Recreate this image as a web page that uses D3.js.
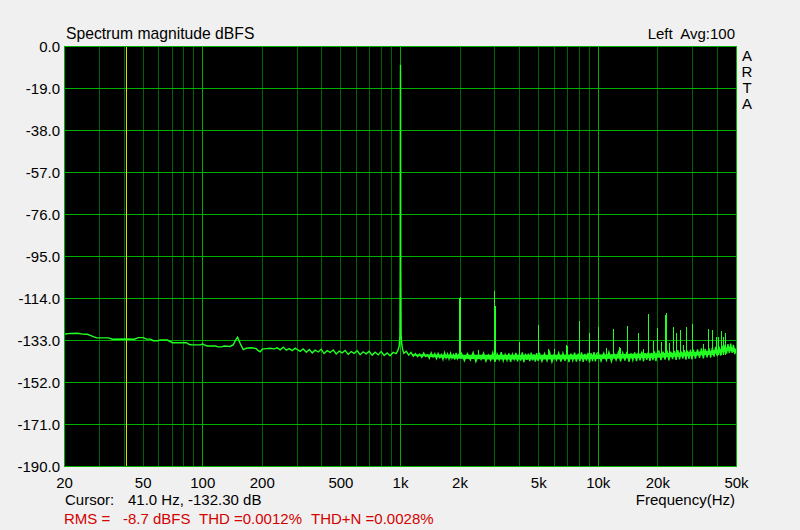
<!DOCTYPE html>
<html><head><meta charset="utf-8">
<script src="https://cdn.jsdelivr.net/npm/d3@7/dist/d3.min.js"></script>
<style>
body{margin:0;background:#f0f0f0;}
svg text{font-family:"Liberation Sans",Arial,sans-serif;font-size:15px;fill:#000;white-space:pre;}
</style>
</head><body>
<svg id="chart" width="800" height="530"></svg>
<script>
// ---------- axis data ----------
const yTicks = [0, -19, -38, -57, -76, -95, -114, -133, -152, -171, -190];
const xTickValues = [20, 50, 100, 200, 500, 1000, 2000, 5000, 10000, 20000, 50000];
const xTickLabels = ["20", "50", "100", "200", "500", "1k", "2k", "5k", "10k", "20k", "50k"];
const majorGridHz = [100, 1000, 10000];
const minorGridHz = [30, 40, 50, 60, 70, 80, 90, 200, 300, 400, 500, 600, 700, 800, 900,
  2000, 3000, 4000, 5000, 6000, 7000, 8000, 9000, 20000, 30000, 40000];
const cursorHz = 41;

// ---------- spectrum data (Hz, dBFS) ----------
const lowHz = [20, 21.4, 23.3, 24.7, 26.1, 27.4, 29, 33.4, 34.9, 41, 45.1, 47.3, 50.1, 51.9, 54.4, 56.3, 59, 61.1, 66.3, 70.2,
  82.7, 85.6, 88.6, 97.3, 100, 101.9, 105.5, 115.8, 119.9, 124.2, 128.6, 137.9, 142.7, 146.1, 150, 154.9, 160.3, 166, 174, 180,
  186.5, 190.9, 195.4, 200, 209.4, 219.5, 230, 238, 246.6, 255.4, 264.4, 273.8, 283.4, 293.6, 304];
const lowDb = [-130.1, -129.8, -129.7, -130.1, -130.2, -130.9, -131.8, -131.8, -132.4, -132.3, -132.4, -131.7, -131.7, -132.4, -132.4, -133.1, -133.1, -132.8, -132.8, -134.0,
  -134.0, -134.8, -135.0, -135.0, -134.6, -135.0, -135.5, -135.5, -135.9, -135.9, -135.5, -135.7, -134.9, -133.1, -131.5, -134.5, -137.1, -136.5, -136.3, -136.4,
  -136.7, -137.6, -138.1, -136.9, -136.7, -136.5, -136.8, -136.3, -137.2, -136.0, -137.4, -136.7, -137.6, -136.5, -137.4];

const midHz = [311, 322, 334, 346, 358, 370, 384, 397, 411, 426, 441, 457, 473, 490, 507, 525, 544, 563, 583, 604,
  625, 647, 670, 694, 719, 744, 771, 798, 827, 856, 886, 918, 950, 970, 985, 993, 997, 999, 1000, 1001, 1003, 1007, 1015, 1025];
const midDb = [-137.9, -136.8, -138.3, -137.1, -138.6, -137.4, -138.2, -137.0, -138.9, -137.6, -138.4, -137.3, -139.1, -137.8, -138.6, -137.5, -139.3, -138.0, -138.8, -137.6,
  -139.4, -138.1, -139.0, -137.9, -139.6, -138.3, -139.5, -138.0, -139.8, -138.6, -139.9, -138.4, -138.9, -137.5, -135.5, -131.0, -100.0, -18.5, -8.3, -18.8, -100.0, -130.5, -134.8, -137.0];

const bandAHz = [1040, 1070, 1100, 1130, 1160, 1190, 1220, 1250, 1280, 1310, 1340, 1370, 1400, 1430, 1460, 1490, 1520, 1550, 1580, 1610,
  1640, 1670, 1700, 1730, 1760, 1790, 1820, 1850, 1880, 1910, 1940, 1970];
const bandADb = [-138.8, -137.9, -139.6, -138.4, -140.1, -138.9, -140.3, -139.2, -140.6, -138.7, -140.2, -139.5, -141.0, -138.6, -140.4, -139.0, -141.2, -138.9, -140.7, -139.3,
  -141.5, -138.5, -140.9, -139.1, -141.3, -138.8, -141.0, -139.4, -141.6, -138.6, -141.1, -139.2];

const bandBHz = [2030, 2105, 2180, 2255, 2330, 2405, 2480, 2555, 2630, 2705, 2780, 2855, 2930, 3005, 3080, 3155, 3230, 3305, 3380, 3455,
  3530, 3605, 3680, 3755, 3830, 3905, 3980, 4055, 4130, 4205, 4280, 4355, 4430, 4505, 4580, 4655, 4730, 4805, 4880, 4955];
const bandBDb = [-138.6, -142.1, -139.0, -141.8, -138.4, -142.5, -139.3, -141.6, -138.7, -142.3, -139.6, -141.9, -138.5, -142.6, -139.1, -141.7, -138.3, -142.2, -139.4, -142.0,
  -138.8, -142.7, -139.2, -141.5, -138.6, -142.4, -139.5, -142.1, -138.4, -142.8, -139.0, -141.8, -138.9, -142.3, -138.5, -142.0, -139.3, -142.6, -138.7, -142.2];

const bandCHz = [5030, 5190, 5350, 5510, 5670, 5830, 5990, 6150, 6310, 6470, 6630, 6790, 6950, 7110, 7270, 7430, 7590, 7750, 7910, 8070,
  8230, 8390, 8550, 8710, 8870, 9030, 9190, 9350, 9510, 9670, 9830];
const bandCDb = [-138.5, -142.4, -138.9, -142.1, -138.3, -142.7, -139.2, -141.9, -138.6, -142.5, -138.8, -142.2, -138.2, -142.8, -139.0, -142.0, -138.5, -142.6, -138.9, -142.3,
  -138.4, -142.7, -139.1, -142.1, -138.6, -142.9, -138.7, -142.3, -138.3, -142.5, -138.9];

const bandDHz = [10000, 10330, 10660, 10990, 11320, 11650, 11980, 12310, 12640, 12970, 13300, 13630, 13960, 14290, 14620, 14950, 15280, 15610, 15940, 16270,
  16600, 16930, 17260, 17590, 17920, 18250, 18580, 18910, 19240, 19570, 19900];
const bandDDb = [-138.4, -142.3, -138.7, -142.0, -138.2, -142.5, -138.9, -141.8, -138.3, -142.4, -138.6, -142.1, -138.1, -142.6, -138.8, -141.9, -138.4, -142.3, -138.5, -142.0,
  -138.0, -142.4, -138.7, -141.8, -138.2, -142.2, -138.6, -141.9, -137.9, -142.3, -138.4];

const bandEHz = [20250, 20750, 21250, 21750, 22250, 22750, 23250, 23750, 24250, 24750, 25250, 25750, 26250, 26750, 27250, 27750, 28250, 28750, 29250, 29750,
  30250, 31000, 31750, 32500, 33250, 34000, 34750, 35500, 36250, 37000, 37750, 38500, 39250, 40000, 40750, 41500, 42250, 43000, 43750, 44500,
  45250, 46000, 46750, 47500, 48250, 49000, 49750];
const bandEDb = [-137.8, -141.9, -138.1, -141.6, -137.5, -142.0, -138.0, -141.4, -137.7, -141.8, -137.3, -141.5, -137.9, -141.2, -137.4, -141.7, -137.6, -141.3, -137.2, -141.5,
  -137.1, -141.2, -137.0, -140.9, -136.6, -141.1, -136.8, -140.6, -136.4, -140.7, -136.2, -140.3, -135.9, -140.1, -135.6, -139.8, -135.3, -139.4, -134.9, -139.0,
  -134.6, -138.7, -134.4, -138.6, -135.0, -139.2, -136.6];

// dense core of the noise band (upper / lower edge)
const coreHz = [1150, 1500, 2000, 3000, 5000, 10000, 20000, 30000, 37000, 42000, 46000, 48500, 49700];
const coreTopDb = [-139.2, -139.3, -139.4, -139.4, -139.4, -139.3, -138.8, -138.2, -137.6, -136.7, -135.8, -136.3, -137.2];
const coreBotDb = [-139.8, -140.6, -141.3, -141.6, -141.6, -141.4, -140.8, -140.0, -139.3, -138.4, -137.6, -138.2, -138.8];

// harmonic / spurious lines rising out of the noise floor
const spikeHz = [1800, 1995, 2005, 2480, 2995, 3008, 4000, 5000, 5600, 6000, 6900, 7000, 8000, 9000, 10000, 11000, 12000, 12800, 13000, 14000,
  16000, 17000, 18000, 19000, 20000, 21000, 22000, 22200, 23000, 24000, 25000, 26000, 27000, 28000, 30000, 34000, 36000, 37800, 39600, 40600,
  42000, 43000, 44000];
const spikeDb = [-138.0, -113.6, -113.4, -137.4, -110.8, -117.5, -133.9, -125.9, -136.8, -137.0, -135.0, -135.4, -124.4, -129.7, -126.7, -136.5, -127.8, -136.0, -136.2, -126.5,
  -129.7, -136.8, -121.0, -133.4, -127.4, -133.8, -121.6, -120.6, -134.0, -126.7, -129.4, -128.2, -135.0, -126.7, -125.5, -134.5, -127.9, -128.2, -131.5, -131.5,
  -128.5, -131.5, -129.7];
const spikeBaseDb = -139.5;

// ---------- texts ----------
const titleText = "Spectrum magnitude dBFS";
const channelText = "Left  Avg:100";
const brandLetters = ["A", "R", "T", "A"];
const cursorLabel = "Cursor:";
const cursorValue = "41.0 Hz, -132.30 dB";
const axisTitle = "Frequency(Hz)";
const statsParts = ["RMS =", "-8.7 dBFS", "THD =0.0012%", "THD+N =0.0028%"];

// ---------- drawing ----------
const svg = d3.select("#chart");
const L = 64, R = 736, T = 46, B = 466;

const x = d3.scaleLog().domain([20, 50000]).range([L + 0.5, R + 0.5]);
const y = d3.scaleLinear().domain([-190, 0]).range([B + 0.5, T + 0.5]);
const px = v => Math.round(x(v) - 0.5) + 0.5;

svg.append("rect").attr("x", L).attr("y", T).attr("width", R - L).attr("height", B - T).attr("fill", "#000");

const grid = svg.append("g").attr("shape-rendering", "crispEdges");
grid.selectAll("line.minor").data(minorGridHz).enter().append("line")
  .attr("x1", d => px(d)).attr("x2", d => px(d)).attr("y1", T).attr("y2", B)
  .attr("stroke", "#006400").attr("stroke-width", 1);
grid.selectAll("line.major").data(majorGridHz).enter().append("line")
  .attr("x1", d => px(d)).attr("x2", d => px(d)).attr("y1", T).attr("y2", B)
  .attr("stroke", "#00b000").attr("stroke-width", 1);
grid.selectAll("line.h").data(yTicks).enter().append("line")
  .attr("x1", L).attr("x2", R).attr("y1", d => Math.round(y(d) - 0.5) + 0.5).attr("y2", d => Math.round(y(d) - 0.5) + 0.5)
  .attr("stroke", "#00b000").attr("stroke-width", 1);
grid.append("line").attr("x1", px(cursorHz)).attr("x2", px(cursorHz)).attr("y1", T).attr("y2", B)
  .attr("stroke", "#e0e000").attr("stroke-width", 1);
grid.append("rect").attr("x", L + 0.5).attr("y", T + 0.5).attr("width", R - L).attr("height", B - T)
  .attr("fill", "none").attr("stroke", "#00b000");

// trace
const hz = [].concat(lowHz, midHz, bandAHz, bandBHz, bandCHz, bandDHz, bandEHz);
const db = [].concat(lowDb, midDb, bandADb, bandBDb, bandCDb, bandDDb, bandEDb);
const pts = hz.map((f, i) => [f, db[i]]);
const line = d3.line().x(d => x(d[0])).y(d => y(d[1]));
svg.append("clipPath").attr("id", "pc").append("rect")
  .attr("x", L + 1).attr("y", T + 1).attr("width", R - L - 1).attr("height", B - T - 1);

const plot = svg.append("g").attr("clip-path", "url(#pc)");
const core = coreHz.map((f, i) => ({ f, t: coreTopDb[i], b: coreBotDb[i] }));
plot.append("path").datum(core)
  .attr("d", d3.area().x(d => x(d.f)).y0(d => y(d.b)).y1(d => y(d.t)))
  .attr("fill", "#22ff22");
plot.selectAll("line.spike").data(spikeHz).enter().append("line")
  .attr("x1", d => px(d)).attr("x2", d => px(d))
  .attr("y1", y(spikeBaseDb)).attr("y2", (d, i) => y(spikeDb[i]))
  .attr("stroke", "#22ff22").attr("stroke-width", 1).attr("shape-rendering", "crispEdges");
plot.append("path").datum(pts).attr("d", line)
  .attr("fill", "none").attr("stroke", "#22ff22").attr("stroke-width", 1.4);

// y tick labels
svg.selectAll("text.yt").data(yTicks).enter().append("text")
  .attr("x", 60).attr("y", d => y(d)).attr("dy", "0.36em").attr("text-anchor", "end")
  .text(d => d.toFixed(1));
// x tick labels
svg.selectAll("text.xt").data(xTickValues).enter().append("text")
  .attr("x", d => x(d)).attr("y", 488).attr("text-anchor", "middle")
  .text((d, i) => xTickLabels[i]);

svg.append("text").attr("x", 66).attr("y", 39).style("font-size", "15.7px").text(titleText);
svg.append("text").attr("x", 735).attr("y", 39).attr("text-anchor", "end").text(channelText);
svg.selectAll("text.brand").data(brandLetters).enter().append("text")
  .attr("x", 747).attr("y", (d, i) => 61 + i * 16).attr("text-anchor", "middle").text(d => d);
svg.append("text").attr("x", 65).attr("y", 505).text(cursorLabel);
svg.append("text").attr("x", 128).attr("y", 505).text(cursorValue);
svg.append("text").attr("x", 735).attr("y", 505).attr("text-anchor", "end").text(axisTitle);
const statsX = [64, 123, 199, 311];
svg.selectAll("text.stats").data(statsParts).enter().append("text")
  .attr("x", (d, i) => statsX[i]).attr("y", 524).style("fill", "#d40000").text(d => d);
</script>
</body></html>
